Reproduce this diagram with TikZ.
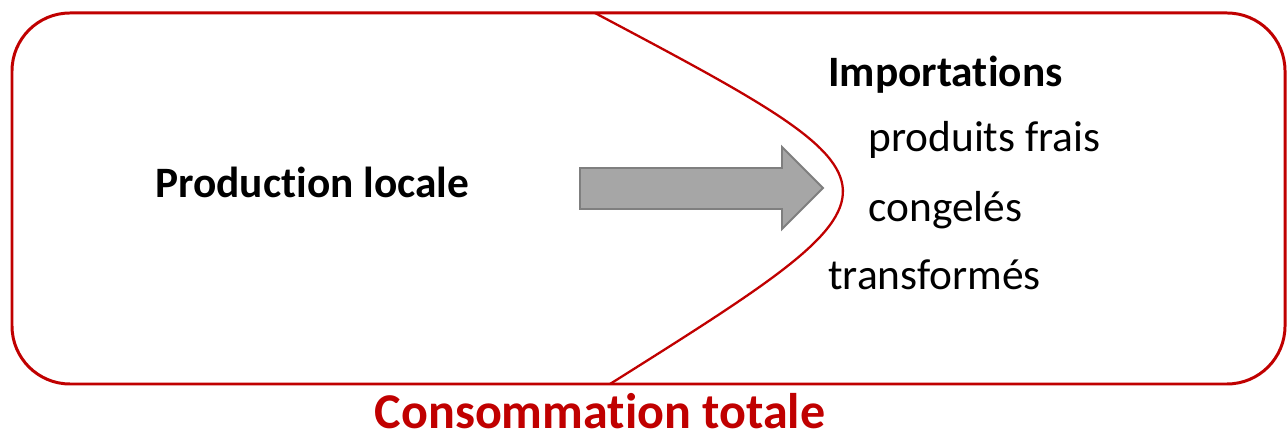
\documentclass[tikz,border=0pt]{standalone}
\usepackage{fontspec}
\setmainfont{Carlito}[Ligatures=NoCommon]
\definecolor{boxred}{HTML}{C00000}
\definecolor{arrowfill}{HTML}{A6A6A6}
\definecolor{arrowline}{HTML}{7F7F7F}
\tikzset{
  label/.style={anchor=base west, inner sep=0pt, font=\fontsize{24.7}{29}\selectfont},
  title/.style={label, font=\fontsize{24.7}{29}\selectfont\bfseries}
}
\begin{document}
\begin{tikzpicture}[x=0.02cm, y=-0.02cm]
			\useasboundingbox (0,0) rectangle (1287,438);
			\draw [boxred, line width=1.7pt, rounded corners=1.16cm] (12,13) rectangle (1285,384);
			\draw [boxred, line width=1.3pt] (595,13) .. controls (923,187) .. (610,384);
			\draw [arrowline, fill=arrowfill, line width=1.1pt] (580,168) -- (782,168) -- (782,147) -- (823,188) -- (782,229) -- (782,209) -- (580,209) -- cycle;
			
			\node [title] (prod) at (155,198) {Production locale};
			\node [title] (imp) at (828,87) {Importations};
			\node [label] (frais) at (868,152) {produits frais};
			\node [label] (cong) at (868,222) {congelés};
			\node [label] (transf) at (828,290) {transformés};
			\node [title, anchor=base, text=boxred, font=\fontsize{28.5}{33}\selectfont\bfseries] (conso) at (600,428) {Consommation totale};
		\end{tikzpicture}
\end{document}
